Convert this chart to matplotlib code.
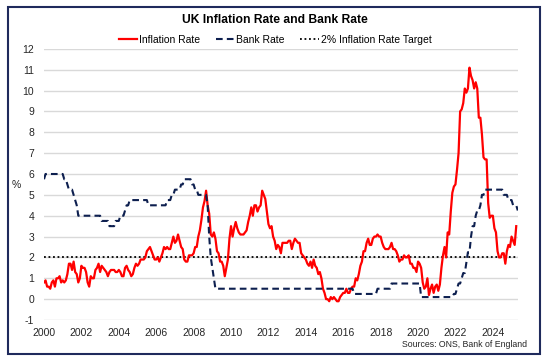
import matplotlib.pyplot as plt
import numpy as np
from matplotlib.patches import Rectangle

plt.rcParams['font.family'] = ['Liberation Sans', 'DejaVu Sans']
plt.rcParams['axes.unicode_minus'] = False

# UK CPI 12-month rate, monthly from Jan 2000 to Apr 2025 (%)
inflation = [
    0.8, 0.9, 0.6, 0.6, 0.5, 0.8, 0.9, 0.6, 1.0, 1.0, 1.1, 0.8,   # 2000
    0.9, 0.8, 0.9, 1.2, 1.7, 1.7, 1.4, 1.8, 1.3, 1.2, 0.8, 1.0,   # 2001
    1.6, 1.5, 1.5, 1.3, 0.8, 0.6, 1.1, 1.0, 1.0, 1.4, 1.5, 1.7,   # 2002
    1.3, 1.6, 1.5, 1.4, 1.3, 1.1, 1.3, 1.4, 1.4, 1.4, 1.3, 1.3,   # 2003
    1.4, 1.3, 1.1, 1.1, 1.5, 1.6, 1.4, 1.3, 1.1, 1.2, 1.5, 1.7,   # 2004
    1.6, 1.7, 1.9, 1.9, 1.9, 2.0, 2.3, 2.4, 2.5, 2.3, 2.1, 1.9,   # 2005
    1.9, 2.0, 1.8, 2.0, 2.2, 2.5, 2.4, 2.5, 2.4, 2.4, 2.7, 3.0,   # 2006
    2.7, 2.8, 3.1, 2.8, 2.5, 2.4, 1.9, 1.8, 1.8, 2.1, 2.1, 2.1,   # 2007
    2.2, 2.5, 2.5, 3.0, 3.3, 3.8, 4.4, 4.7, 5.2, 4.5, 4.1, 3.1,   # 2008
    3.0, 3.2, 2.9, 2.3, 2.2, 1.8, 1.8, 1.6, 1.1, 1.5, 1.9, 2.9,   # 2009
    3.5, 3.0, 3.4, 3.7, 3.4, 3.2, 3.1, 3.1, 3.1, 3.2, 3.3, 3.7,   # 2010
    4.0, 4.4, 4.0, 4.5, 4.5, 4.2, 4.4, 4.5, 5.2, 5.0, 4.8, 4.2,   # 2011
    3.6, 3.4, 3.5, 3.0, 2.8, 2.4, 2.6, 2.5, 2.2, 2.7, 2.7, 2.7,   # 2012
    2.7, 2.8, 2.8, 2.4, 2.7, 2.9, 2.8, 2.7, 2.7, 2.2, 2.1, 2.0,   # 2013
    1.9, 1.7, 1.6, 1.8, 1.5, 1.9, 1.6, 1.5, 1.2, 1.3, 1.0, 0.5,   # 2014
    0.3, 0.0, 0.0, -0.1, 0.1, 0.0, 0.1, 0.0, -0.1, -0.1, 0.1, 0.2,  # 2015
    0.3, 0.3, 0.5, 0.3, 0.3, 0.5, 0.6, 0.6, 1.0, 0.9, 1.2, 1.6,   # 2016
    1.8, 2.3, 2.3, 2.7, 2.9, 2.6, 2.6, 2.9, 3.0, 3.0, 3.1, 3.0,   # 2017
    3.0, 2.7, 2.5, 2.4, 2.4, 2.4, 2.5, 2.7, 2.4, 2.4, 2.3, 2.1,   # 2018
    1.8, 1.9, 1.9, 2.1, 2.0, 2.0, 2.1, 1.7, 1.7, 1.5, 1.5, 1.3,   # 2019
    1.8, 1.7, 1.5, 0.8, 0.5, 0.6, 1.0, 0.2, 0.5, 0.7, 0.3, 0.6,   # 2020
    0.7, 0.4, 0.7, 1.5, 2.1, 2.5, 2.0, 3.2, 3.1, 4.2, 5.1, 5.4,   # 2021
    5.5, 6.2, 7.0, 9.0, 9.1, 9.4, 10.1, 9.9, 10.1, 11.1, 10.7, 10.5,  # 2022
    10.1, 10.4, 10.1, 8.7, 8.7, 7.9, 6.8, 6.7, 6.7, 4.6, 3.9, 4.0,  # 2023
    4.0, 3.4, 3.2, 2.3, 2.0, 2.0, 2.2, 2.2, 1.7, 2.3, 2.6, 2.5,   # 2024
    3.0, 2.8, 2.6, 3.5,                                           # 2025
]

# Bank Rate at month end, Jan 2000 to May 2025 (%)
bank_rate = [
    5.75, 6, 6, 6, 6, 6, 6, 6, 6, 6, 6, 6,                                  # 2000
    6, 5.75, 5.75, 5.5, 5.25, 5.25, 5.25, 5.0, 4.75, 4.5, 4.0, 4.0,          # 2001
    4, 4, 4, 4, 4, 4, 4, 4, 4, 4, 4, 4,                                      # 2002
    4, 3.75, 3.75, 3.75, 3.75, 3.75, 3.5, 3.5, 3.5, 3.5, 3.75, 3.75,         # 2003
    3.75, 4, 4, 4, 4.25, 4.5, 4.5, 4.75, 4.75, 4.75, 4.75, 4.75,             # 2004
    4.75, 4.75, 4.75, 4.75, 4.75, 4.75, 4.75, 4.5, 4.5, 4.5, 4.5, 4.5,       # 2005
    4.5, 4.5, 4.5, 4.5, 4.5, 4.5, 4.5, 4.75, 4.75, 4.75, 5.0, 5.0,           # 2006
    5.25, 5.25, 5.25, 5.25, 5.5, 5.5, 5.75, 5.75, 5.75, 5.75, 5.75, 5.5,     # 2007
    5.5, 5.25, 5.25, 5.0, 5.0, 5.0, 5.0, 5.0, 5.0, 4.5, 3.0, 2.0,           # 2008
    1.5, 1.0, 0.5, 0.5, 0.5, 0.5, 0.5, 0.5, 0.5, 0.5, 0.5, 0.5,             # 2009
    0.5, 0.5, 0.5, 0.5, 0.5, 0.5, 0.5, 0.5, 0.5, 0.5, 0.5, 0.5,             # 2010
    0.5, 0.5, 0.5, 0.5, 0.5, 0.5, 0.5, 0.5, 0.5, 0.5, 0.5, 0.5,             # 2011
    0.5, 0.5, 0.5, 0.5, 0.5, 0.5, 0.5, 0.5, 0.5, 0.5, 0.5, 0.5,             # 2012
    0.5, 0.5, 0.5, 0.5, 0.5, 0.5, 0.5, 0.5, 0.5, 0.5, 0.5, 0.5,             # 2013
    0.5, 0.5, 0.5, 0.5, 0.5, 0.5, 0.5, 0.5, 0.5, 0.5, 0.5, 0.5,             # 2014
    0.5, 0.5, 0.5, 0.5, 0.5, 0.5, 0.5, 0.5, 0.5, 0.5, 0.5, 0.5,             # 2015
    0.5, 0.5, 0.5, 0.5, 0.5, 0.5, 0.5, 0.25, 0.25, 0.25, 0.25, 0.25,        # 2016
    0.25, 0.25, 0.25, 0.25, 0.25, 0.25, 0.25, 0.25, 0.25, 0.25, 0.5, 0.5,   # 2017
    0.5, 0.5, 0.5, 0.5, 0.5, 0.5, 0.5, 0.75, 0.75, 0.75, 0.75, 0.75,        # 2018
    0.75, 0.75, 0.75, 0.75, 0.75, 0.75, 0.75, 0.75, 0.75, 0.75, 0.75, 0.75, # 2019
    0.75, 0.75, 0.1, 0.1, 0.1, 0.1, 0.1, 0.1, 0.1, 0.1, 0.1, 0.1,           # 2020
    0.1, 0.1, 0.1, 0.1, 0.1, 0.1, 0.1, 0.1, 0.1, 0.1, 0.1, 0.25,            # 2021
    0.25, 0.5, 0.75, 0.75, 1.0, 1.25, 1.25, 1.75, 2.25, 2.25, 3.0, 3.5,     # 2022
    3.5, 4.0, 4.25, 4.25, 4.5, 5.0, 5.0, 5.25, 5.25, 5.25, 5.25, 5.25,      # 2023
    5.25, 5.25, 5.25, 5.25, 5.25, 5.25, 5.25, 5.0, 5.0, 5.0, 4.75, 4.75,    # 2024
    4.75, 4.5, 4.5, 4.5, 4.25,                                              # 2025
]

target = 2.0
x_ticks = list(range(2000, 2026, 2))
y_ticks = list(range(-1, 13))

t_inf = 2000 + np.arange(len(inflation)) / 12
t_bank = 2000 + np.arange(len(bank_rate)) / 12

fig = plt.figure(figsize=(5.5, 3.62), dpi=100)
ax = fig.add_axes([0.08, 0.116, 0.862, 0.749])

ax.plot([2000, 2025.35], [target, target], color='black', linestyle=(0, (1, 1.5)),
        linewidth=1.3, label='2% Inflation Rate Target', zorder=3)
ax.plot(t_inf, inflation, color='#ff0000', linewidth=1.6, label='Inflation Rate', zorder=4)
ax.plot(t_bank, bank_rate, color='#0d1f4f', linewidth=1.5, linestyle=(0, (3.2, 2)),
        label='Bank Rate', zorder=4)

ax.set_xlim(2000, 2025.35)
ax.set_ylim(-1, 12)
ax.set_xticks(x_ticks)
ax.set_yticks(y_ticks)
ax.tick_params(length=0, labelsize=7.5, colors='#262626')
ax.tick_params(axis='x', pad=6)
ax.tick_params(axis='y', pad=7)
ax.grid(axis='y', color='#d9d9d9', linewidth=1)
ax.set_axisbelow(True)
for s in ax.spines.values():
    s.set_visible(False)

fig.text(0.029, 0.49, '%', fontsize=7.5, color='#262626', ha='center', va='center')

h, l = ax.get_legend_handles_labels()
order = [1, 2, 0]
ax.legend([h[i] for i in order], [l[i] for i in order], loc='center',
          bbox_to_anchor=(0.5, 0.89), bbox_transform=fig.transFigure, ncol=3,
          frameon=False, fontsize=7.5, handlelength=1.8, handletextpad=0.15,
          columnspacing=1.5)

fig.suptitle('UK Inflation Rate and Bank Rate', x=0.5, y=0.945, fontsize=8.7,
             fontweight='bold', va='center')
fig.text(0.958, 0.047, 'Sources: ONS, Bank of England', fontsize=6.3,
         color='#262626', ha='right', va='center')

fig.patches.append(Rectangle((8 / 550, 8 / 362), 532 / 550, 347 / 362,
                             transform=fig.transFigure, fill=False,
                             edgecolor='#1f2a5c', linewidth=1.5))

fig.savefig('out.png', dpi=100)
